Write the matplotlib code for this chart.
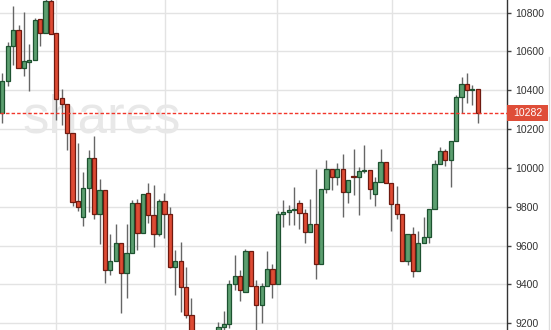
import numpy as np
import matplotlib.pyplot as plt
import matplotlib.transforms as mtransforms
from matplotlib.patches import Rectangle

# daily OHLC (candles 37-40 sit below the visible range)
opens = [10282, 10450, 10627, 10709, 10513, 10547, 10555, 10768, 10694, 10858,
         10694, 10359, 10328, 10179, 9830, 9749, 9895, 10050, 9763, 9887,
         9473, 9519, 9612, 9461, 9564, 9818, 9663, 9870, 9756, 9661,
         9828, 9761, 9491, 9519, 9385, 9241, 9115, 9070, 9100, 9050,
         9120, 9182, 9196, 9401, 9443, 9360, 9572, 9394, 9294, 9392,
         9478, 9401, 9761, 9772, 9782, 9818, 9767, 9672, 9710, 9504,
         9890, 9993, 9952, 9993, 9878, 9956, 9952, 9984, 9990, 9864,
         9928, 10029, 9921, 9813, 9761, 9519, 9658, 9471, 9612, 9643,
         9787, 10019, 10088, 10041, 10139, 10364, 10433, 10402, 10405]
highs = [10489, 10651, 10835, 10737, 10802, 10637, 10771, 10768, 10880, 10870,
         10694, 10405, 10328, 10179, 10127, 9978, 10093, 10166, 9943, 9887,
         9660, 9710, 9612, 9710, 9835, 9839, 9864, 9924, 9912, 9839,
         9870, 9801, 9577, 9620, 9488, 9332, 9150, 9140, 9145, 9150,
         9208, 9263, 9423, 9552, 9474, 9583, 9572, 9423, 9406, 9574,
         9505, 9778, 9835, 9809, 9901, 9835, 9787, 9840, 9995, 9890,
         10041, 9993, 10024, 10072, 9938, 10098, 10004, 10118, 9990, 9952,
         10096, 10029, 9921, 9909, 9761, 9658, 9694, 9675, 9749, 9787,
         10041, 10107, 10096, 10139, 10376, 10467, 10491, 10428, 10405]
lows = [10232, 10422, 10529, 10513, 10474, 10398, 10555, 10630, 10694, 10689,
        10247, 10221, 10093, 9806, 9778, 9703, 9775, 9736, 9608, 9409,
        9449, 9519, 9251, 9329, 9564, 9577, 9663, 9715, 9591, 9651,
        9638, 9483, 9346, 9260, 9226, 9090, 9030, 9020, 9000, 9010,
        9080, 9140, 9175, 9371, 9315, 9360, 9394, 9150, 9200, 9392,
        9329, 9401, 9694, 9706, 9706, 9686, 9615, 9672, 9427, 9504,
        9870, 9887, 9912, 9749, 9821, 9861, 9758, 9973, 9839, 9804,
        9928, 9921, 9675, 9737, 9519, 9500, 9440, 9471, 9612, 9615,
        9787, 10019, 10010, 9904, 10139, 10285, 10336, 10325, 10230]
closes = [10450, 10628, 10709, 10513, 10550, 10555, 10761, 10694, 10859, 10689,
          10357, 10328, 10179, 9826, 9799, 9895, 10050, 9763, 9887, 9473,
          9519, 9612, 9461, 9564, 9818, 9663, 9864, 9756, 9660, 9830,
          9761, 9491, 9519, 9385, 9241, 9120, 9070, 9100, 9050, 9110,
          9182, 9196, 9401, 9443, 9370, 9572, 9394, 9294, 9394, 9478,
          9401, 9763, 9772, 9784, 9785, 9767, 9672, 9710, 9504, 9890,
          9993, 9952, 9993, 9878, 9938, 9954, 9983, 9990, 9890, 9928,
          10029, 9921, 9813, 9761, 9519, 9658, 9471, 9612, 9643, 9787,
          10019, 10088, 10041, 10139, 10364, 10433, 10402, 10405, 10282]

last_price = 10282
price_ticks = [9200, 9400, 9600, 9800, 10000, 10200, 10400, 10600, 10800]
month_lines = [9.94, 30.1, 50.8, 72.1]

green, green_edge = '#5c9f70', '#1d5230'
red, red_edge = '#de4b34', '#6e1a10'

fig = plt.figure(figsize=(5.51, 3.30), dpi=100)
ax = fig.add_axes([0, 0, 507 / 551, 1])

x = np.arange(len(opens))
o = np.array(opens)
c = np.array(closes)
up = c >= o

ax.vlines(x, lows, highs, color='#666666', linewidth=1, zorder=2)
bottoms = np.minimum(o, c)
heights = np.maximum(np.abs(c - o), 4)
ax.bar(x, heights, bottom=bottoms, width=0.78,
       color=np.where(up, green, red), edgecolor=np.where(up, green_edge, red_edge),
       linewidth=0.9, zorder=3)

ax.set_xlim(-0.43, 93.41)
ax.set_ylim(9165, 10865)

ax.set_yticks(price_ticks)
ax.set_xticks(month_lines)
ax.set_xticklabels([])
ax.grid(True, color='#e3e3e3', linewidth=1)
ax.set_axisbelow(True)

ax.yaxis.tick_right()
ax.tick_params(axis='y', direction='out', length=3, width=1, color='#444444',
               pad=3, labelsize=7.5, labelcolor='#333333')
ax.tick_params(axis='x', length=0)
for lab in ax.get_yticklabels():
    lab.set_fontfamily('Liberation Sans')
for side in ['top', 'left', 'bottom']:
    ax.spines[side].set_visible(False)
ax.spines['right'].set_color('#333333')
ax.spines['right'].set_linewidth(1)

# watermark
ax.text(22 / 507, 0.597, 'shares', transform=ax.transAxes, fontsize=38,
        family='Liberation Sans', color='#e8e8e8', va='baseline', ha='left',
        zorder=1)

# last price line and label
ax.axhline(last_price, color='#f2362a', linestyle=(0, (2.5, 1.5)), linewidth=1.0, zorder=4)
trans = mtransforms.blended_transform_factory(fig.transFigure, ax.transData)
ax.add_patch(Rectangle((507 / 551, last_price - 40), 41 / 551, 80, transform=trans,
                       facecolor='#df4d38', edgecolor='none', clip_on=False, zorder=5))
fig.text(528 / 551, last_price, str(last_price), transform=trans, color='white',
         fontsize=7.5, family='Liberation Sans', ha='center', va='center', zorder=6)

fig.add_artist(plt.Line2D([549 / 551, 549 / 551], [0, 1 - 57 / 330],
                          color='#dddddd', linewidth=1))

fig.savefig('out.png', dpi=100)
